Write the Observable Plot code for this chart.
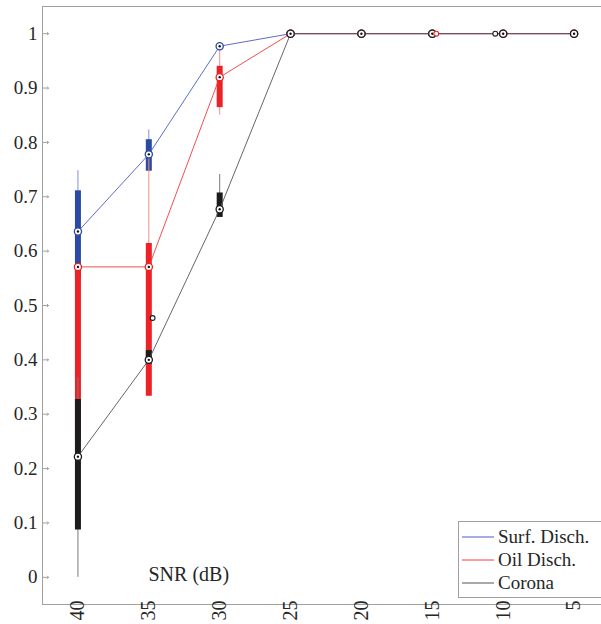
<!DOCTYPE html>
<html><head><meta charset="utf-8">
<script src="https://cdn.jsdelivr.net/npm/d3@7"></script>
<script src="https://cdn.jsdelivr.net/npm/@observablehq/plot@0.6"></script>
<style>
body{margin:0;overflow:hidden;background:#fff}
#wrap{position:relative;width:601px;height:624px}
#chart svg, #chart svg text{font-family:"Liberation Serif","Times New Roman",Times,"DejaVu Serif",serif !important}
#legend{position:absolute;left:458px;top:521px;width:150px;padding:3px 0 3px 0;border:1px solid #a0a0a0;background:#fff;font-family:"Liberation Serif","Times New Roman",Times,"DejaVu Serif",serif;font-size:19px;color:#262626}
#legend .row{display:flex;align-items:center;height:23px}
#legend svg{margin:0 4px 0 3px}
</style>
</head><body><div id="wrap"><div id="chart"></div><div id="legend"></div></div>
<script>
// SNR categories (x) and y tick values
const snr = [40, 35, 30, 25, 20, 15, 10, 5];
const yTicks = [0, 0.1, 0.2, 0.3, 0.4, 0.5, 0.6, 0.7, 0.8, 0.9, 1];
const seriesNames = ["Surf. Disch.", "Oil Disch.", "Corona"];

// Surf. Disch.
const surfMedian = [0.636, 0.778, 0.977, 1, 1, 1, 1, 1];
const surfQ1     = [0.55, 0.747, 0.975, 1, 1, 1, 1, 1];
const surfQ3     = [0.711, 0.805, 0.98, 1, 1, 1, 1, 1];
const surfLo     = [0.52, 0.747, 0.975, 1, 1, 1, 1, 1];
const surfHi     = [0.748, 0.823, 0.98, 1, 1, 1, 1, 1];
// Oil Disch.
const oilMedian = [0.571, 0.571, 0.92, 1, 1, 1, 1, 1];
const oilQ1     = [0.25, 0.333, 0.864, 1, 1, 1, 1, 1];
const oilQ3     = [0.571, 0.614, 0.94, 1, 1, 1, 1, 1];
const oilLo     = [0.15, 0.333, 0.85, 1, 1, 1, 1, 1];
const oilHi     = [0.571, 0.778, 0.975, 1, 1, 1, 1, 1];
// Corona
const coronaMedian = [0.222, 0.400, 0.677, 1, 1, 1, 1, 1];
const coronaQ1     = [0.087, 0.392, 0.662, 1, 1, 1, 1, 1];
const coronaQ3     = [0.327, 0.417, 0.707, 1, 1, 1, 1, 1];
const coronaLo     = [0.0, 0.392, 0.662, 1, 1, 1, 1, 1];
const coronaHi     = [0.367, 0.417, 0.741, 1, 1, 1, 1, 1];

// Outliers (series, SNR, value, horizontal jitter in SNR units)
const outlierSeries = ["Corona", "Oil Disch.", "Corona"];
const outlierSnr    = [35, 15, 10];
const outlierValue  = [0.477, 1, 1];
const outlierJitter = [-0.27, -0.28, 0.56];

const boxColors     = ["#2b4aa3", "#ec2226", "#1c1c1c"];
const whiskerColors = ["#8090d4", "#f38d8d", "#7a7a7a"];
const lineColors    = ["#4a5cc4", "#f23a3a", "#555555"];

const stats = [
  [surfMedian, surfQ1, surfQ3, surfLo, surfHi],
  [oilMedian, oilQ1, oilQ3, oilLo, oilHi],
  [coronaMedian, coronaQ1, coronaQ3, coronaLo, coronaHi]
];
const data = seriesNames.map((s, i) => snr.map((x, j) => ({
  series: s, snr: x,
  med: stats[i][0][j], q1: stats[i][1][j], q3: stats[i][2][j], lo: stats[i][3][j], hi: stats[i][4][j]
})));
const outliers = outlierSeries.map((s, k) => ({series: s, x: outlierSnr[k] + outlierJitter[k], y: outlierValue[k]}));

const font = '"Liberation Serif", "Times New Roman", Times, "DejaVu Serif", serif';
const marks = [];
data.forEach((d, i) => {
  marks.push(Plot.ruleX(d, {x: "snr", y1: "lo", y2: "hi", stroke: whiskerColors[i], strokeWidth: 1}));
  marks.push(Plot.ruleX(d, {x: "snr", y1: "q1", y2: "q3", stroke: boxColors[i], strokeWidth: 6}));
});
data.forEach((d, i) => {
  marks.push(Plot.line(d, {x: "snr", y: "med", stroke: lineColors[i], strokeWidth: 0.9}));
});
data.forEach((d, i) => {
  marks.push(Plot.dot(d, {x: "snr", y: "med", r: 3.6, fill: "white", stroke: boxColors[i], strokeWidth: 1.3}));
  marks.push(Plot.dot(d, {x: "snr", y: "med", r: 1.2, fill: "#111", stroke: null}));
});
outliers.forEach(o => {
  const i = seriesNames.indexOf(o.series);
  marks.push(Plot.dot([o], {x: "x", y: "y", r: 2.4, fill: "white", stroke: boxColors[i], strokeWidth: 1.1}));
});

const chart = Plot.plot({
  width: 601, height: 624,
  marginTop: 6, marginBottom: 20, marginLeft: 42, marginRight: -8,
  style: {fontFamily: font, color: "#262626", background: "white"},
  x: {type: "linear", domain: [42.5, 2.5], axis: null},
  y: {domain: [-0.05, 1.05], axis: null},
  marks: [
    Plot.frame({stroke: "#a0a0a0"}),
    Plot.vector(yTicks, {y: d => d, frameAnchor: "left", rotate: 90, length: 6, anchor: "start", stroke: "#a0a0a0", strokeWidth: 1}),
    Plot.axisY(yTicks, {anchor: "left", tickSize: 0, tickPadding: 5, tickFormat: d => String(d), fontSize: 19, fill: "#262626"}),
    Plot.axisX(snr, {anchor: "bottom", tickSize: 0, tickPadding: -4, tickRotate: -90, fontSize: 20, fill: "#262626", tickFormat: d => String(d)}),
    ...marks,
    Plot.text(["SNR (dB)"], {frameAnchor: "bottom-left", dx: 106, dy: -24, textAnchor: "start", fontSize: 20, fill: "#262626"})
  ]
});
document.getElementById("chart").appendChild(chart);

// legend
const leg = d3.select("#legend");
seriesNames.forEach((s, i) => {
  const row = leg.append("div").attr("class", "row");
  const svg = row.append("svg").attr("width", 32).attr("height", 10);
  svg.append("line").attr("x1", 0).attr("x2", 32).attr("y1", 5).attr("y2", 5).attr("stroke", lineColors[i]).attr("stroke-width", 1);
  row.append("span").text(s);
});
</script>
</body></html>
